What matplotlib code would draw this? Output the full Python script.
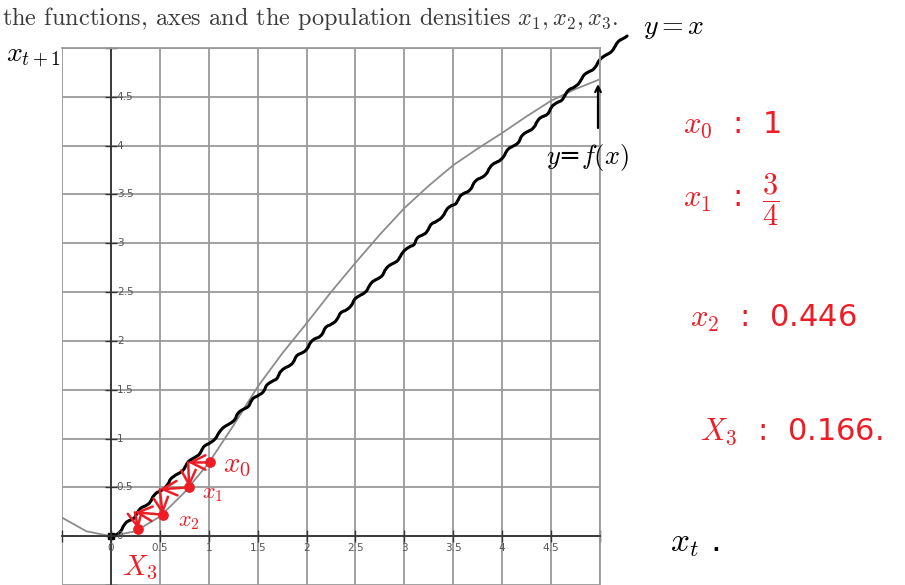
import numpy as np
import matplotlib
matplotlib.use("Agg")
import matplotlib.pyplot as plt

plt.rcParams['mathtext.fontset'] = 'cm'

# f(x)
f_x = [-0.5, -0.25, 0, 0.25, 0.5, 0.75, 1.0, 1.25, 1.5, 1.75, 2.0, 2.25, 2.5,
       2.75, 3.0, 3.25, 3.5, 3.75, 4.0, 4.25, 4.5, 4.75, 5.0]
f_y = [0.19, 0.05, 0.0, 0.05, 0.2, 0.446, 0.75, 1.13, 1.53, 1.87, 2.18, 2.50, 2.80,
       3.09, 3.36, 3.59, 3.80, 3.97, 4.13, 4.30, 4.46, 4.58, 4.68]

# hand drawn y = x
line_x = [0.03, 5.27]
line_y = [0.0, 5.13]

# cobweb points (x_t, x_t+1) as drawn, and the corners on y = x
dot_x = [1.01, 0.80, 0.53, 0.28]
dot_y = [0.755, 0.50, 0.22, 0.07]
corner_x = [0.79, 0.50, 0.245]
corner_y = [0.755, 0.48, 0.245]
dot_names = ['$x_0$', '$x_1$', '$x_2$', '$X_3$']

tick_vals = [0.5, 1, 1.5, 2, 2.5, 3, 3.5, 4, 4.5]
tick_text = ['0.5', '1', '1.5', '2', '2.5', '3', '3.5', '4', '4.5']

side_notes = [r'$x_0$  :  1', r'$x_1$  :  $\dfrac{3}{4}$', r'$x_2$  :  0.446', r'$X_3$  :  0.166.']

W, H = 905, 585
fig = plt.figure(figsize=(W / 100, H / 100), dpi=100)
ax = fig.add_axes([62 / W, 0, 538 / W, 1 - 48 / H])
ax.set_xlim(-0.5, 4.99)
ax.set_ylim(-0.48, 5.0)

grid = np.arange(-0.5, 5.01, 0.5)
ax.set_xticks(grid)
ax.set_yticks(grid)
ax.grid(True, color='#9a9a9a', lw=1.3)
ax.tick_params(labelbottom=False, labelleft=False, direction='inout', length=8,
               width=1, color='#333333')
ax.spines['left'].set_position(('data', 0))
ax.spines['bottom'].set_position(('data', 0))
for s in ['left', 'bottom']:
    ax.spines[s].set_color('#333333')
    ax.spines[s].set_linewidth(1.3)
for s in ['top', 'right']:
    ax.spines[s].set_color('#9a9a9a')
    ax.spines[s].set_linewidth(1.3)

# tick labels
for v, t in zip(tick_vals, tick_text):
    ax.text(v, -0.12, t, fontsize=7.5, color='#555555', ha='center', va='center')
    ax.text(0.06, v, t, fontsize=7.5, color='#555555', ha='left', va='center')
ax.text(0, -0.12, '0', fontsize=7.5, color='#555555', ha='center', va='center')
ax.text(0.06, 0, '0', fontsize=7.5, color='#555555', ha='left', va='center')

# curves
ax.plot(f_x, f_y, color='#8c8c8c', lw=1.3)
yx, = ax.plot(line_x, line_y, color='black', lw=2.2, clip_on=False,
              solid_capstyle='round')
yx.set_sketch_params(scale=1.2, length=24, randomness=2)
ax.plot([0], [0], marker='s', color='black', ms=5)

# cobweb
red = '#ee1c25'
ax.scatter(dot_x, dot_y, color=red, s=45, zorder=5)
for i in range(3):
    ax.annotate('', xy=(corner_x[i], corner_y[i]), xytext=(dot_x[i], dot_y[i]),
                arrowprops=dict(arrowstyle='->', color=red, lw=1.8,
                                mutation_scale=26, shrinkA=0, shrinkB=0))
    ax.annotate('', xy=(dot_x[i + 1], dot_y[i + 1]), xytext=(corner_x[i], corner_y[i]),
                arrowprops=dict(arrowstyle='->', color=red, lw=1.8,
                                mutation_scale=26, shrinkA=0, shrinkB=0))

# labels near the dots (figure pixels)
name_pos = [(237, 465, 21), (213, 494, 16), (189, 522, 16), (140, 568, 21)]
for name, (px, py, fs) in zip(dot_names, name_pos):
    fig.text(px / W, 1 - py / H, name, color=red, fontsize=fs, ha='center', va='center')

# handwritten notes on the right
note_y = [125, 200, 318, 432]
note_x = [683, 683, 690, 700]
for t, nx, ny in zip(side_notes, note_x, note_y):
    fig.text(nx / W, 1 - ny / H, t, color=red, fontsize=22, ha='left', va='center')

# black handwritten labels
fig.text(6 / W, 1 - 56 / H, r'$x_{t+1}$', fontsize=20, color='black', ha='left', va='center')
fig.text(670 / W, 1 - 542 / H, r'$x_t$ .', fontsize=24, color='black', ha='left', va='center')
fig.text(643 / W, 1 - 27 / H, r'$y=x$', fontsize=20, color='black', ha='left', va='center')
fig.text(546 / W, 1 - 158 / H, r'$y$=$f(x)$', fontsize=19, color='black', ha='left', va='center')
ax.annotate('', xy=(598, H - 84), xytext=(598, H - 128), xycoords='figure pixels',
            textcoords='figure pixels',
            arrowprops=dict(arrowstyle='->', color='black', lw=1.6, shrinkA=0, shrinkB=0))

# the cropped caption at the top
fig.text(2 / W, 1 - 18 / H, 'the functions, axes and the population densities $x_1, x_2, x_3$.',
         fontsize=17.5, family='cmr10', color='#3a3a3a', ha='left', va='center')

fig.savefig('out.png', dpi=100)
